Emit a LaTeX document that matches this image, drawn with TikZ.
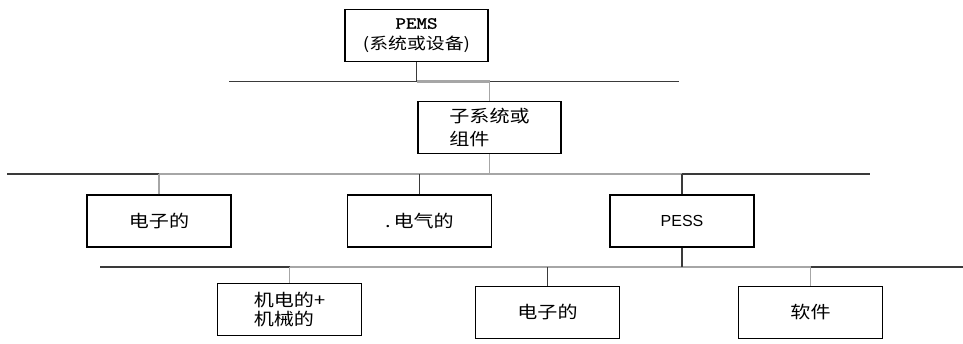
\documentclass[tikz,border=0pt]{standalone}
\usepackage{fontspec}
\setmainfont{Liberation Sans}
\newfontfamily\cjk[FakeStretch=1.18]{Noto Sans CJK SC}
\newfontfamily\pemsfont[FakeStretch=1.2,FakeBold=1.5]{Latin Modern Mono}
\usetikzlibrary{positioning}
\definecolor{busdark}{HTML}{3A3A3A}
\definecolor{busgray}{HTML}{A6A6A6}
\tikzset{
    partbox/.style={
        draw=black, line width=1.2pt, fill=white,
        minimum width=144pt, minimum height=52pt, inner sep=0pt,
        font=\cjk\fontsize{17}{22}\selectfont, align=center
    },
    bus/.style={draw=busdark, line width=1.7pt},
    busgrey/.style={draw=busgray, line width=2.2pt},
    tapdark/.style={draw=busdark, line width=1.3pt},
    tapgrey/.style={draw=busgray, line width=1.5pt},
}

\begin{document}
\begin{tikzpicture}[x=1pt, y=-1pt]
    \useasboundingbox (0,0) rectangle (963,343);
    % levels
    \node[partbox, minimum width=143pt, font=\cjk\fontsize{16}{21}\selectfont] (pems) at (416.5,35.5) {{\pemsfont\fontsize{17}{21}\selectfont PEMS}\\(系统或设备)};
    \node[partbox, minimum width=143pt, align=left, font=\cjk\fontsize{17}{23}\selectfont] (sub) at (489.5,127.5) {子系统或\\组件};
    \node[partbox] (elec1) at (159,221) {电子的};
    \node[partbox] (elec) at (419.5,221) {.\,电气的};
    \node[partbox, font=\fontsize{16}{18}\selectfont] (pess) at (682,221) {PESS};
    \node[partbox, align=left, font=\cjk\fontsize{17}{19}\selectfont, yshift=3pt] (mech) at (289.5,312.5) {机电的+\\机械的};
    \node[partbox] (elec2) at (547.5,312.5) {电子的};
    \node[partbox] (soft) at (810.5,312.5) {软件};
    % bus lines
    \coordinate (b1w) at (229,81.5);
    \coordinate (b1e) at (679,81.5);
    \coordinate (b2w) at (7,174);
    \coordinate (b2e) at (870,174);
    \coordinate (b3w) at (100,267);
    \coordinate (b3e) at (963,267);
    \draw[bus] (b1w) -- (b1e);
    \draw[busgrey] (pems.south |- b1w) -- (sub.north |- b1w);
    \draw[tapdark] (pems) -- (pems |- b1w);
    \draw[tapgrey] (sub) -- (sub |- b1w);
    \draw[bus] (b2w) -- (b2e);
    \draw[busgrey] (elec1 |- b2w) -- (pess |- b2w);
    \draw[tapgrey] (sub) -- (sub |- b2w);
    \draw[tapgrey] (elec1) -- (elec1 |- b2w);
    \draw[tapdark] (elec) -- (elec |- b2w);
    \draw[tapdark] (pess) -- (pess |- b2w);
    \draw[bus] (b3w) -- (b3e);
    \draw[busgrey] (mech |- b3w) -- (soft |- b3w);
    \draw[tapdark] (pess) -- (pess |- b3w);
    \draw[tapgrey] (mech.north) -- (mech.north |- b3w);
    \draw[tapdark] (elec2) -- (elec2 |- b3w);
    \draw[tapgrey] (soft) -- (soft |- b3w);
\end{tikzpicture}
\end{document}
